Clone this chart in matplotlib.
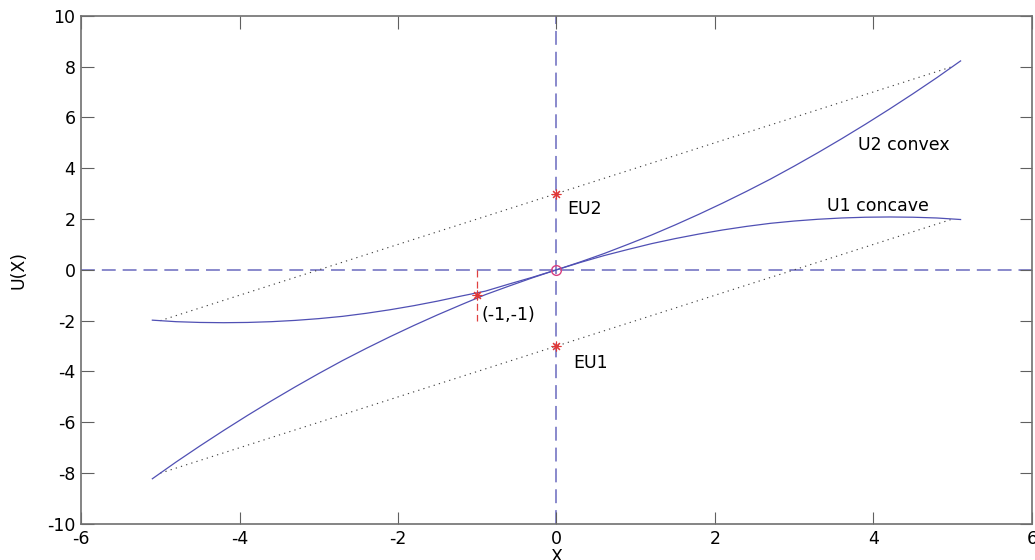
import matplotlib
matplotlib.use("Agg")
import matplotlib.pyplot as plt

plt.rcParams['font.family'] = ['DejaVu Sans']
plt.rcParams['lines.scale_dashes'] = False
plt.rcParams['axes.unicode_minus'] = False

# Outcome grid and the two utility curves
x_vals = [-5.1, -4.8, -4.5, -4.2, -3.9, -3.6, -3.3, -3.0, -2.7, -2.4, -2.1, -1.8,
          -1.5, -1.2, -0.9, -0.6, -0.3, 0.0, 0.3, 0.6, 0.9, 1.2, 1.5, 1.8, 2.1,
          2.4, 2.7, 3.0, 3.3, 3.6, 3.9, 4.2, 4.5, 4.8, 5.1]
u1_concave = [-1.98, -2.04, -2.07, -2.08, -2.07, -2.04, -1.99, -1.92, -1.83, -1.71,
              -1.57, -1.41, -1.23, -1.03, -0.84, -0.56, -0.29, 0.0, 0.29, 0.56,
              0.80, 1.03, 1.23, 1.41, 1.57, 1.71, 1.83, 1.92, 1.99, 2.04, 2.07,
              2.08, 2.07, 2.04, 1.98]
u2_convex = [-8.22, -7.56, -6.93, -6.32, -5.73, -5.16, -4.61, -4.08, -3.57, -3.09,
             -2.63, -2.19, -1.77, -1.37, -0.98, -0.64, -0.31, 0.0, 0.31, 0.64,
             1.00, 1.37, 1.77, 2.19, 2.63, 3.09, 3.57, 4.08, 4.61, 5.16, 5.73,
             6.32, 6.93, 7.56, 8.22]

# Chords between the outcomes -5 and +5
chord_x = [-5, 5]
chord_u2 = [-2, 8]
chord_u1 = [-8, 2]

# Expected utilities at X = 0
eu_x = [0, 0]
eu_vals = [3, -3]
eu_labels = ["EU2", "EU1"]

# Marked point
pt_x, pt_y = -1, -1

fig = plt.figure(figsize=(10.35, 5.6), dpi=100)
ax = fig.add_axes([0.0783, 0.0643, 0.9187, 0.9077])

axis_col = '#7676c4'
curve_col = '#5050b4'

ax.axhline(0, color=axis_col, lw=1.2, dashes=(10, 5), zorder=1)
ax.axvline(0, color=axis_col, lw=1.2, dashes=(10, 5), zorder=1)

ax.plot(chord_x, chord_u2, color='#404040', lw=0.8, dashes=(0.9, 3.0), zorder=2)
ax.plot(chord_x, chord_u1, color='#404040', lw=0.8, dashes=(0.9, 3.0), zorder=2)

ax.plot(x_vals, u1_concave, color=curve_col, lw=0.9, zorder=3)
ax.plot(x_vals, u2_convex, color=curve_col, lw=0.9, zorder=3)

ax.plot([pt_x, pt_x], [0, -2], color='#e04040', lw=0.9, dashes=(5, 3), zorder=3)

# asterisk markers
ast = dict(linestyle='none', marker=(8, 2, 0), ms=7, color='#e03838',
           markeredgewidth=0.8, zorder=4)
ax.plot(eu_x, eu_vals, **ast)
ax.plot([pt_x], [pt_y], **ast)
ax.plot([0], [0], linestyle='none', marker='o', ms=7, mfc='none', mec='#d84080',
        mew=1.0, zorder=4)

fs = 12.5
ax.text(0.13, 2.4, eu_labels[0], fontsize=fs, va='center', ha='left')
ax.text(0.21, -3.66, eu_labels[1], fontsize=fs, va='center', ha='left')
ax.text(-0.95, -1.77, "(-1,-1)", fontsize=fs, va='center', ha='left')
ax.text(3.8, 4.92, "U2 convex", fontsize=fs, va='center', ha='left')
ax.text(3.42, 2.5, "U1 concave", fontsize=fs, va='center', ha='left')

ax.set_xlim(-6, 6)
ax.set_ylim(-10, 10)
ax.set_xticks(range(-6, 7, 2))
ax.set_yticks(range(-10, 11, 2))
ax.tick_params(direction='in', length=9, width=0.8, color='#606060',
               labelsize=fs, top=True, right=True, pad=4)
for s in ax.spines.values():
    s.set_color('#707070')
    s.set_linewidth(1.2)

ax.set_xlabel("X", fontsize=fs, labelpad=0)
ax.set_ylabel("U(X)", fontsize=fs, labelpad=14)

fig.savefig("out.png", dpi=100)
